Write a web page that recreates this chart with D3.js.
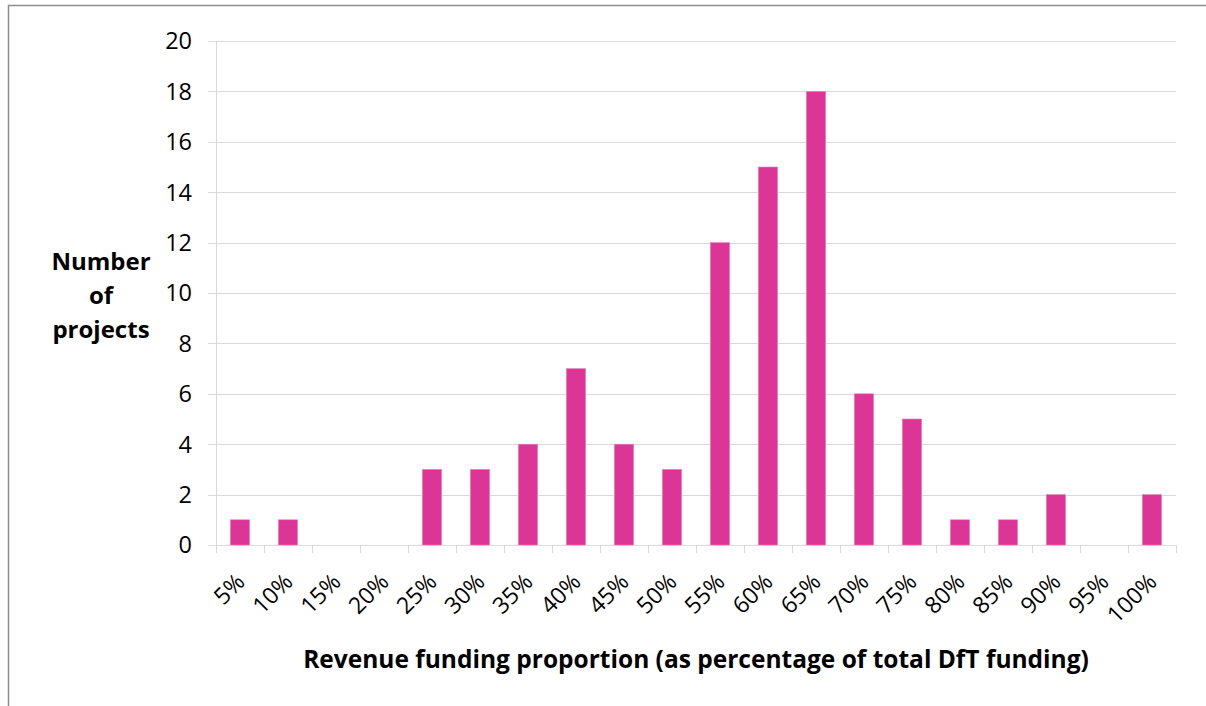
<!DOCTYPE html>
<html>
<head>
<meta charset="utf-8">
<script src="https://cdn.jsdelivr.net/npm/d3@7"></script>
<style>
  body { margin: 0; background: #fff; }
  svg { display: block; font-family: "Open Sans", Lato, sans-serif; }
</style>
</head>
<body>
<script>
// data
const categories = ["5%", "10%", "15%", "20%", "25%", "30%", "35%", "40%", "45%", "50%",
    "55%", "60%", "65%", "70%", "75%", "80%", "85%", "90%", "95%", "100%"];
const projects = [1, 1, 0, 0, 3, 3, 4, 7, 4, 3, 12, 15, 18, 6, 5, 1, 1, 2, 0, 2];
const yTicks = [0, 2, 4, 6, 8, 10, 12, 14, 16, 18, 20];

const W = 1206, H = 706;
const plot = {left: 216, right: 1176, top: 41, bottom: 545};

const svg = d3.select("body")
    .append("svg")
    .attr("width", W)
    .attr("height", H);

// frame (left + top edge only)
svg.append("path")
    .attr("d", `M8.5,${H} L8.5,5.5 L${W},5.5`)
    .attr("fill", "none")
    .attr("stroke", "#8c8c8c")
    .attr("stroke-width", 1.5);

const x = d3.scaleBand()
    .domain(categories)
    .range([plot.left, plot.right])
    .paddingInner(0.6)
    .paddingOuter(0.3);

const y = d3.scaleLinear()
    .domain([0, 20])
    .range([plot.bottom, plot.top]);

// gridlines
svg.append("g")
    .selectAll("line")
    .data(yTicks)
    .join("line")
    .attr("x1", plot.left - 8)
    .attr("x2", plot.right)
    .attr("y1", d => Math.round(y(d)) + 0.5)
    .attr("y2", d => Math.round(y(d)) + 0.5)
    .attr("stroke", "#d9d9d9")
    .attr("stroke-width", 1);

// y axis line
svg.append("line")
    .attr("x1", plot.left + 0.5).attr("x2", plot.left + 0.5)
    .attr("y1", plot.top).attr("y2", plot.bottom)
    .attr("stroke", "#d9d9d9");

// y tick labels
svg.append("g")
    .selectAll("text")
    .data(yTicks)
    .join("text")
    .attr("x", 192)
    .attr("y", d => y(d))
    .attr("dy", "0.36em")
    .attr("text-anchor", "end")
    .attr("font-size", 23.5)
    .attr("fill", "#000")
    .text(d => d);

// x ticks on band boundaries
const half = x.step() * x.paddingInner() / 2;
const bounds = categories.map(c => x(c) - half).concat([x(categories[categories.length - 1]) - half + x.step()]);
svg.append("g")
    .selectAll("line")
    .data(bounds)
    .join("line")
    .attr("x1", d => Math.round(d) + 0.5)
    .attr("x2", d => Math.round(d) + 0.5)
    .attr("y1", plot.bottom)
    .attr("y2", plot.bottom + 8)
    .attr("stroke", "#d9d9d9");

// bars
svg.append("g")
    .selectAll("rect")
    .data(projects)
    .join("rect")
    .attr("x", (d, i) => x(categories[i]))
    .attr("width", x.bandwidth())
    .attr("y", d => y(d))
    .attr("height", d => y(0) - y(d))
    .attr("fill", "#dc3596")
    .attr("stroke", "#e77fbb")
    .attr("stroke-width", d => d > 0 ? 0.6 : 0);

// x tick labels, rotated
svg.append("g")
    .selectAll("text")
    .data(categories)
    .join("text")
    .attr("transform", d => `translate(${x(d) + x.bandwidth() / 2 - 6},${plot.bottom + 26}) rotate(-45)`)
    .attr("text-anchor", "end")
    .attr("dy", "0.75em")
    .attr("font-size", 23)
    .attr("fill", "#000")
    .text(d => d);

// axis titles
svg.append("text")
    .attr("x", (plot.left + plot.right) / 2)
    .attr("y", 668)
    .attr("text-anchor", "middle")
    .attr("font-size", 24.5)
    .attr("font-weight", "bold")
    .text("Revenue funding proportion (as percentage of total DfT funding)");

svg.append("text")
    .attr("text-anchor", "middle")
    .attr("font-size", 24)
    .attr("font-weight", "bold")
    .selectAll("tspan")
    .data(["Number", "of", "projects"])
    .join("tspan")
    .attr("x", 101)
    .attr("y", (d, i) => 270 + i * 34)
    .text(d => d);
</script>
</body>
</html>
